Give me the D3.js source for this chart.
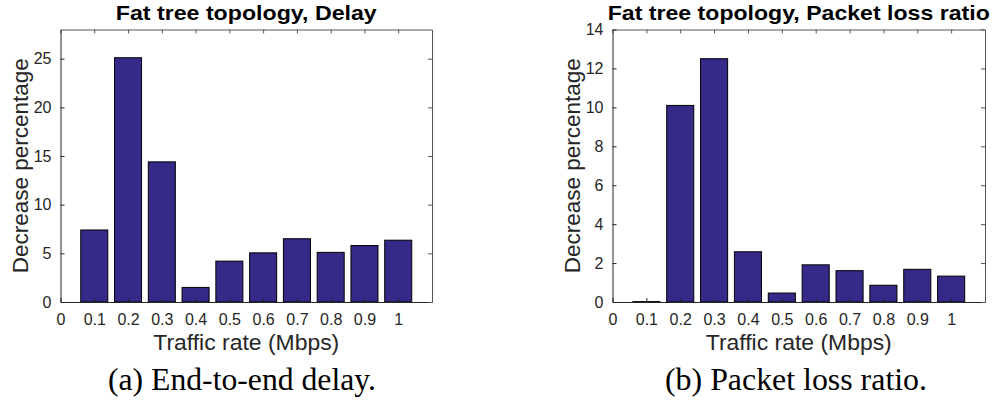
<!DOCTYPE html>
<html>
<head>
<meta charset="utf-8">
<script src="https://cdn.jsdelivr.net/npm/d3@7"></script>
<style>
  html, body { margin: 0; padding: 0; background: #fff; }
  svg { display: block; }
</style>
</head>
<body>
<svg id="fig" width="993" height="402"></svg>
<script>
// Traffic rates (Mbps) on the x axis
const trafficRates = [0.1, 0.2, 0.3, 0.4, 0.5, 0.6, 0.7, 0.8, 0.9, 1.0];
// Decrease percentage of end-to-end delay
const delayDecrease = [7.4, 25.1, 14.4, 1.5, 4.2, 5.05, 6.5, 5.1, 5.8, 6.35];
// Decrease percentage of packet loss ratio
const lossDecrease = [0.02, 10.1, 12.5, 2.58, 0.46, 1.91, 1.61, 0.86, 1.68, 1.33];

const xTicks = [0, 0.1, 0.2, 0.3, 0.4, 0.5, 0.6, 0.7, 0.8, 0.9, 1.0];
const xTickLabels = ["0", "0.1", "0.2", "0.3", "0.4", "0.5", "0.6", "0.7", "0.8", "0.9", "1"];
const delayTicks = [0, 5, 10, 15, 20, 25];
const lossTicks = [0, 2, 4, 6, 8, 10, 12, 14];

const svg = d3.select("#fig");
const SANS = '"Liberation Sans", Arial, Helvetica, sans-serif';
const SERIF = '"Liberation Serif", "Times New Roman", serif';
const BAR_FILL = "#352a87";
const INK = "#262626";

function fitText(sel, width) {
  sel.attr("textLength", width).attr("lengthAdjust", "spacingAndGlyphs");
}

function drawPanel(opt) {
  const { left, right, top, bottom } = opt.box;
  const x = d3.scaleLinear().domain([0, 1.1]).range([left, right]);
  const y = d3.scaleLinear().domain([0, opt.yMax]).range([bottom, top]);
  const g = svg.append("g");

  // bars
  g.append("g").selectAll("rect")
    .data(opt.values)
    .join("rect")
    .attr("x", (d, i) => x(trafficRates[i] - 0.04))
    .attr("width", (d, i) => x(trafficRates[i] + 0.04) - x(trafficRates[i] - 0.04))
    .attr("y", d => y(d))
    .attr("height", d => y(0) - y(d))
    .attr("fill", BAR_FILL)
    .attr("stroke", "#000")
    .attr("stroke-width", 1);

  // axes with inward ticks, mirrored on top and right
  const fmtX = d => xTickLabels[xTicks.indexOf(d)];
  const bottomAx = g.append("g").attr("transform", `translate(0,${bottom})`)
    .call(d3.axisBottom(x).tickValues(xTicks).tickFormat(fmtX)
      .tickSizeInner(-4).tickSizeOuter(0).tickPadding(12));
  const topAx = g.append("g").attr("transform", `translate(0,${top})`)
    .call(d3.axisTop(x).tickValues(xTicks).tickFormat("")
      .tickSizeInner(-4).tickSizeOuter(0));
  const leftAx = g.append("g").attr("transform", `translate(${left},0)`)
    .call(d3.axisLeft(y).tickValues(opt.yTicks)
      .tickSizeInner(-4).tickSizeOuter(0).tickPadding(9));
  const rightAx = g.append("g").attr("transform", `translate(${right},0)`)
    .call(d3.axisRight(y).tickValues(opt.yTicks).tickFormat("")
      .tickSizeInner(-4).tickSizeOuter(0));

  [bottomAx, leftAx].forEach(a => {
    a.attr("font-size", null).attr("font-family", null);
    a.selectAll("path.domain").attr("stroke", INK);
    a.selectAll(".tick line").attr("stroke", INK);
    a.selectAll(".tick text")
      .style("font-family", SANS)
      .style("font-size", "16px")
      .attr("fill", INK);
  });
  [topAx, rightAx].forEach(a => {
    a.selectAll("path.domain").attr("stroke", "#555");
    a.selectAll(".tick line").attr("stroke", "#555");
  });

  const cx = (left + right) / 2;
  // title
  g.append("text")
    .attr("x", cx).attr("y", 20)
    .attr("text-anchor", "middle")
    .style("font-family", SANS).style("font-weight", "bold").style("font-size", "21px")
    .attr("fill", "#000")
    .text(opt.title)
    .call(fitText, opt.titleWidth);

  // x label
  g.append("text")
    .attr("x", cx).attr("y", 350)
    .attr("text-anchor", "middle")
    .style("font-family", SANS).style("font-size", "22px")
    .attr("fill", INK)
    .text("Traffic rate (Mbps)")
    .call(fitText, 186);

  // y label
  g.append("text")
    .attr("transform", `translate(${left - 33},${(top + bottom) / 2}) rotate(-90)`)
    .attr("text-anchor", "middle")
    .style("font-family", SANS).style("font-size", "22px")
    .attr("fill", INK)
    .text("Decrease percentage")
    .call(fitText, 215);

  // sub-figure caption
  g.append("text")
    .attr("x", opt.captionX).attr("y", 390)
    .attr("text-anchor", "middle")
    .style("font-family", SERIF).style("font-size", "31px")
    .attr("fill", "#000")
    .text(opt.caption)
    .call(fitText, opt.captionWidth);
}

drawPanel({
  box: { left: 60.5, right: 432, top: 29.5, bottom: 302 },
  values: delayDecrease,
  yMax: 28,
  yTicks: delayTicks,
  title: "Fat tree topology, Delay",
  titleWidth: 261,
  caption: "(a) End-to-end delay.",
  captionX: 242,
  captionWidth: 268
});

drawPanel({
  box: { left: 612.5, right: 985, top: 29.5, bottom: 302 },
  values: lossDecrease,
  yMax: 14,
  yTicks: lossTicks,
  title: "Fat tree topology, Packet loss ratio",
  titleWidth: 382,
  caption: "(b) Packet loss ratio.",
  captionX: 796,
  captionWidth: 262
});
</script>
</body>
</html>
